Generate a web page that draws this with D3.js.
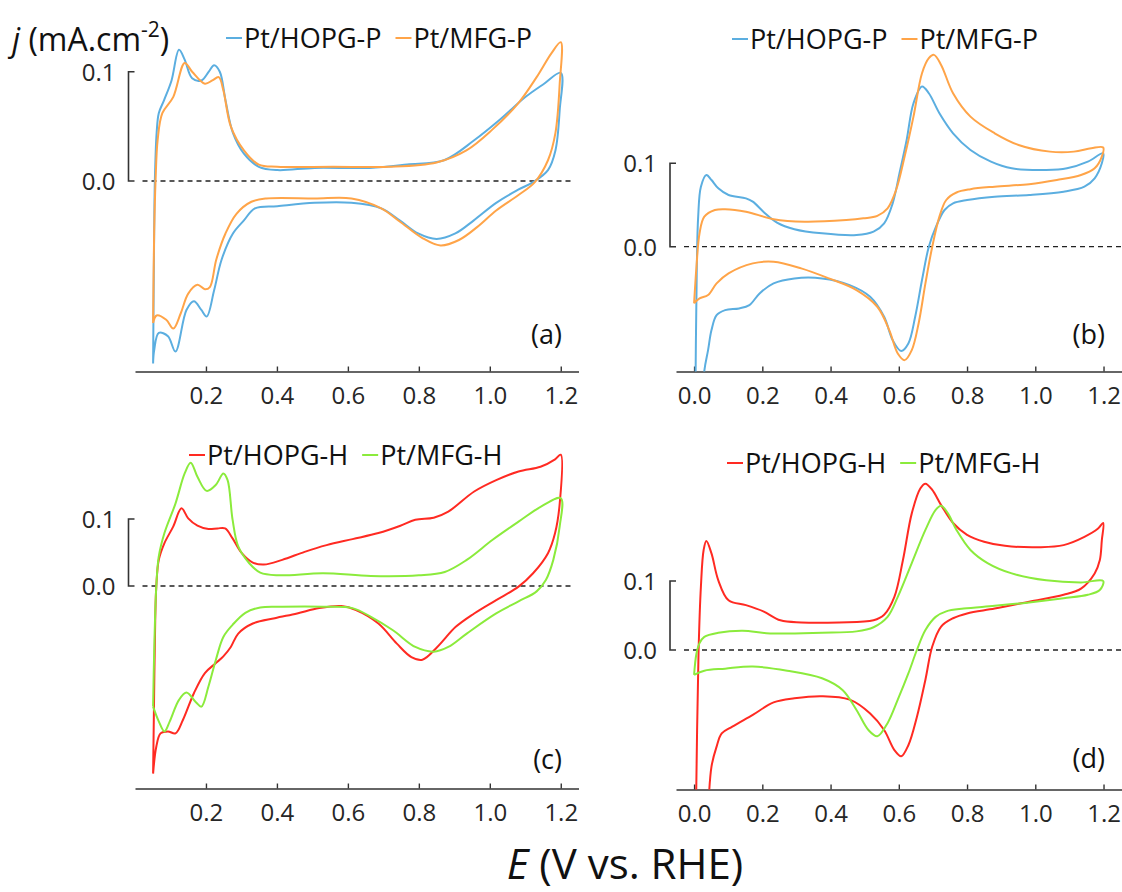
<!DOCTYPE html>
<html>
<head>
<meta charset="utf-8">
<script src="https://cdn.jsdelivr.net/npm/d3@7"></script>
<style>
  body { margin: 0; background: #fff; }
  svg { display: block; font-family: "Open Sans", "Noto Sans", sans-serif; }
</style>
</head>
<body>
<svg id="chart"></svg>
<script>
// ---- data (E in V vs RHE, j in mA/cm2) ----
const namesP = ['Pt/HOPG-P', 'Pt/MFG-P'];
const namesH = ['Pt/HOPG-H', 'Pt/MFG-H'];
const panelTags = ['(a)', '(b)', '(c)', '(d)'];
const xTicksShort = [0.2, 0.4, 0.6, 0.8, 1.0, 1.2];
const xTicksFull = [0.0, 0.2, 0.4, 0.6, 0.8, 1.0, 1.2];
const yTicks = [0.0, 0.1];

const aHopgP = [[0.051,-0.167],[0.054,-0.048],[0.056,0.001],[0.061,0.044],[0.067,0.062],[0.082,0.074],[0.103,0.092],[0.124,0.120],[0.140,0.111],[0.161,0.094],[0.187,0.092],[0.208,0.100],[0.223,0.106],[0.239,0.100],[0.255,0.074],[0.276,0.044],[0.307,0.025],[0.349,0.013],[0.401,0.010],[0.506,0.012],[0.662,0.012],[0.767,0.015],[0.871,0.019],[0.955,0.037],[1.028,0.056],[1.101,0.077],[1.153,0.089],[1.200,0.099],
  [1.197,0.065],[1.185,0.028],[1.164,0.010],[1.122,-0.001],[1.080,-0.008],[1.018,-0.020],[0.955,-0.036],[0.903,-0.048],[0.850,-0.053],[0.798,-0.048],[0.746,-0.036],[0.694,-0.025],[0.610,-0.020],[0.506,-0.020],[0.401,-0.023],[0.338,-0.025],[0.307,-0.036],[0.276,-0.048],[0.244,-0.072],[0.223,-0.100],[0.202,-0.124],[0.187,-0.118],[0.166,-0.110],[0.145,-0.118],[0.114,-0.156],[0.093,-0.142],[0.067,-0.139],[0.054,-0.155],[0.051,-0.167]];

const aMfgP = [[0.051,-0.130],[0.054,-0.048],[0.058,0.001],[0.064,0.038],[0.077,0.062],[0.108,0.077],[0.140,0.108],[0.161,0.100],[0.197,0.089],[0.218,0.092],[0.236,0.095],[0.249,0.083],[0.270,0.050],[0.307,0.028],[0.349,0.015],[0.401,0.013],[0.558,0.013],[0.714,0.013],[0.850,0.017],[0.934,0.028],[1.007,0.047],[1.080,0.071],[1.132,0.095],[1.174,0.117],[1.200,0.127],
  [1.197,0.089],[1.185,0.044],[1.164,0.019],[1.127,-0.001],[1.080,-0.013],[1.018,-0.027],[0.965,-0.042],[0.913,-0.054],[0.861,-0.059],[0.809,-0.052],[0.746,-0.037],[0.694,-0.025],[0.610,-0.016],[0.506,-0.016],[0.370,-0.016],[0.328,-0.019],[0.286,-0.030],[0.255,-0.048],[0.229,-0.072],[0.211,-0.097],[0.197,-0.099],[0.176,-0.095],[0.150,-0.103],[0.129,-0.121],[0.108,-0.135],[0.088,-0.127],[0.061,-0.123],[0.051,-0.130]];

const bHopgP = [[0.003,-0.220],[0.008,-0.024],[0.012,0.036],[0.020,0.072],[0.036,0.086],[0.051,0.080],[0.071,0.070],[0.101,0.062],[0.152,0.058],[0.172,0.054],[0.203,0.042],[0.243,0.029],[0.294,0.021],[0.375,0.016],[0.476,0.014],[0.526,0.018],[0.557,0.028],[0.582,0.052],[0.602,0.088],[0.623,0.128],[0.643,0.172],[0.668,0.192],[0.688,0.184],[0.719,0.160],[0.759,0.136],[0.810,0.116],[0.870,0.102],[0.931,0.094],[1.032,0.092],[1.093,0.094],[1.154,0.102],[1.199,0.112],
  [1.195,0.100],[1.174,0.082],[1.144,0.072],[1.083,0.066],[0.982,0.062],[0.881,0.060],[0.800,0.056],[0.759,0.052],[0.734,0.044],[0.709,0.024],[0.688,0.000],[0.668,-0.040],[0.648,-0.084],[0.628,-0.116],[0.607,-0.125],[0.582,-0.112],[0.557,-0.084],[0.516,-0.060],[0.456,-0.046],[0.375,-0.038],[0.294,-0.038],[0.233,-0.044],[0.192,-0.056],[0.162,-0.070],[0.132,-0.074],[0.091,-0.076],[0.066,-0.082],[0.051,-0.100],[0.041,-0.124],[0.030,-0.149],[0.022,-0.220]];

const bMfgP = [[0.000,-0.068],[0.007,-0.024],[0.016,0.016],[0.030,0.036],[0.061,0.044],[0.091,0.045],[0.152,0.042],[0.233,0.033],[0.324,0.030],[0.446,0.032],[0.496,0.034],[0.537,0.037],[0.567,0.046],[0.592,0.068],[0.617,0.108],[0.643,0.156],[0.668,0.208],[0.688,0.226],[0.703,0.230],[0.724,0.218],[0.759,0.184],[0.810,0.156],[0.881,0.136],[0.951,0.122],[1.043,0.114],[1.113,0.114],[1.164,0.118],[1.199,0.119],
  [1.195,0.108],[1.174,0.094],[1.134,0.086],[1.063,0.080],[0.982,0.075],[0.881,0.072],[0.810,0.069],[0.769,0.065],[0.739,0.056],[0.719,0.036],[0.698,0.000],[0.678,-0.044],[0.658,-0.092],[0.638,-0.124],[0.617,-0.136],[0.597,-0.128],[0.572,-0.100],[0.537,-0.072],[0.476,-0.052],[0.395,-0.038],[0.314,-0.026],[0.233,-0.018],[0.172,-0.020],[0.101,-0.032],[0.066,-0.044],[0.041,-0.058],[0.016,-0.062],[0.000,-0.068]];

const cHopgH = [[0.051,-0.280],[0.053,-0.200],[0.057,-0.051],[0.060,-0.001],[0.067,0.039],[0.083,0.064],[0.108,0.089],[0.131,0.116],[0.150,0.101],[0.176,0.090],[0.207,0.085],[0.233,0.086],[0.254,0.086],[0.275,0.071],[0.301,0.049],[0.332,0.035],[0.363,0.032],[0.415,0.039],[0.478,0.051],[0.540,0.061],[0.613,0.070],[0.686,0.079],[0.748,0.090],[0.790,0.099],[0.842,0.102],[0.883,0.111],[0.956,0.141],[1.018,0.158],[1.081,0.171],[1.143,0.178],[1.184,0.189],[1.200,0.196],
  [1.197,0.123],[1.184,0.079],[1.164,0.049],[1.122,0.019],[1.081,-0.001],[1.018,-0.021],[0.956,-0.041],[0.904,-0.061],[0.852,-0.091],[0.810,-0.110],[0.779,-0.106],[0.738,-0.086],[0.686,-0.056],[0.623,-0.036],[0.582,-0.030],[0.519,-0.033],[0.457,-0.041],[0.394,-0.048],[0.332,-0.056],[0.291,-0.071],[0.270,-0.091],[0.249,-0.105],[0.228,-0.115],[0.197,-0.130],[0.166,-0.160],[0.135,-0.200],[0.114,-0.220],[0.093,-0.217],[0.072,-0.220],[0.060,-0.240],[0.051,-0.280]];

const cMfgH = [[0.051,-0.180],[0.054,-0.100],[0.060,-0.001],[0.067,0.044],[0.083,0.079],[0.114,0.123],[0.140,0.168],[0.157,0.184],[0.176,0.163],[0.202,0.142],[0.228,0.151],[0.249,0.168],[0.261,0.158],[0.275,0.099],[0.291,0.059],[0.322,0.034],[0.353,0.020],[0.405,0.016],[0.530,0.019],[0.665,0.015],[0.800,0.016],[0.873,0.021],[0.935,0.039],[1.008,0.069],[1.081,0.096],[1.143,0.118],[1.200,0.131],
  [1.197,0.089],[1.179,0.039],[1.158,0.009],[1.132,-0.008],[1.081,-0.023],[1.018,-0.041],[0.935,-0.071],[0.883,-0.091],[0.842,-0.098],[0.790,-0.091],[0.727,-0.066],[0.665,-0.046],[0.613,-0.033],[0.530,-0.031],[0.415,-0.031],[0.353,-0.032],[0.311,-0.040],[0.275,-0.058],[0.249,-0.076],[0.228,-0.110],[0.207,-0.150],[0.187,-0.180],[0.171,-0.173],[0.145,-0.159],[0.124,-0.170],[0.098,-0.202],[0.083,-0.217],[0.067,-0.202],[0.051,-0.180]];

const dHopgH = [[0.005,-0.250],[0.013,-0.005],[0.020,0.092],[0.028,0.145],[0.036,0.158],[0.051,0.140],[0.071,0.101],[0.101,0.072],[0.152,0.065],[0.203,0.056],[0.253,0.043],[0.314,0.040],[0.425,0.040],[0.526,0.043],[0.557,0.051],[0.587,0.077],[0.612,0.130],[0.638,0.198],[0.663,0.234],[0.678,0.241],[0.698,0.232],[0.724,0.210],[0.759,0.184],[0.800,0.167],[0.850,0.157],[0.911,0.151],[1.012,0.149],[1.083,0.152],[1.144,0.164],[1.184,0.176],[1.199,0.184],
  [1.195,0.159],[1.189,0.130],[1.174,0.111],[1.134,0.089],[1.083,0.080],[0.982,0.070],[0.881,0.060],[0.800,0.053],[0.759,0.046],[0.724,0.034],[0.698,0.005],[0.678,-0.043],[0.653,-0.097],[0.628,-0.138],[0.607,-0.154],[0.587,-0.145],[0.557,-0.116],[0.516,-0.092],[0.456,-0.072],[0.375,-0.067],[0.294,-0.070],[0.233,-0.076],[0.172,-0.094],[0.112,-0.111],[0.081,-0.121],[0.066,-0.140],[0.051,-0.169],[0.040,-0.250]];

const dMfgH = [[0.000,-0.036],[0.007,-0.005],[0.016,0.010],[0.030,0.019],[0.071,0.025],[0.142,0.028],[0.223,0.024],[0.375,0.025],[0.476,0.027],[0.526,0.033],[0.567,0.048],[0.597,0.077],[0.638,0.126],[0.678,0.174],[0.708,0.203],[0.724,0.209],[0.744,0.198],[0.769,0.174],[0.810,0.145],[0.860,0.126],[0.931,0.111],[1.032,0.101],[1.134,0.098],[1.199,0.100],
  [1.189,0.087],[1.154,0.080],[1.083,0.075],[0.982,0.069],[0.881,0.064],[0.790,0.060],[0.739,0.056],[0.708,0.048],[0.678,0.029],[0.653,0.000],[0.628,-0.034],[0.597,-0.072],[0.567,-0.106],[0.537,-0.125],[0.511,-0.116],[0.476,-0.087],[0.435,-0.058],[0.375,-0.041],[0.273,-0.030],[0.172,-0.024],[0.091,-0.027],[0.030,-0.030],[0.000,-0.036]];

const colorsP = ['#5BAEE0', '#FFA448'];
const colorsH = ['#FF2A22', '#8BEB3C'];

class CvPanel {

  /**
   * One cyclic voltammogram panel
   * @param {Object} layout
   * @param {Array} series
   */
  constructor(_config, _series) {
    this.config = {
      svg: _config.svg,
      id: _config.id,
      tag: _config.tag,
      names: _config.names,
      colors: _config.colors,
      xDomain: _config.xDomain,
      xRange: _config.xRange,
      xTicks: _config.xTicks,
      yZero: _config.yZero,
      yTenth: _config.yTenth,
      axisY: _config.axisY,
      bracketX: _config.bracketX,
      dashEnd: _config.dashEnd,
      legendX: _config.legendX,
      legendY: _config.legendY,
      tagRight: _config.tagRight,
      tagBaseline: _config.tagBaseline
    };
    this.series = _series;
    this.initVis();
  }

  initVis() {
    let vis = this;
    const c = vis.config;

    vis.xScale = d3.scaleLinear().domain(c.xDomain).range(c.xRange);
    vis.yScale = d3.scaleLinear().domain([0, 0.1]).range([c.yZero, c.yTenth]);

    vis.g = c.svg.append('g').attr('class', 'panel-' + c.id);

    // clip the traces at the x axis line
    vis.g.append('clipPath')
        .attr('id', 'clip-' + c.id)
      .append('rect')
        .attr('x', c.xRange[0])
        .attr('y', c.axisY - 420)
        .attr('width', c.xRange[1] - c.xRange[0])
        .attr('height', 420);

    // x axis, ticks pointing inward
    vis.xAxis = d3.axisBottom(vis.xScale)
      .tickValues(c.xTicks)
      .tickSize(-5)
      .tickSizeOuter(0)
      .tickPadding(15)
      .tickFormat(d3.format('.1f'));

    vis.xAxisG = vis.g.append('g')
      .attr('transform', `translate(0,${c.axisY})`)
      .call(vis.xAxis);
    vis.xAxisG.select('.domain').attr('stroke', '#333').attr('stroke-width', 1.6);
    vis.xAxisG.selectAll('.tick line').attr('stroke', '#333').attr('stroke-width', 1.4);
    vis.xAxisG.selectAll('.tick text')
      .attr('fill', '#262626')
      .style('font-size', '24px')
      .style('font-family', '"Open Sans", sans-serif');

    // y scale bar: bracket from 0.0 to 0.1
    const b = c.bracketX;
    vis.g.append('path')
      .attr('d', `M${b + 6},${vis.yScale(0.1)}H${b}V${vis.yScale(0)}H${b + 6}`)
      .attr('fill', 'none')
      .attr('stroke', '#333')
      .attr('stroke-width', 1.6);

    vis.g.selectAll('.ytick')
      .data(yTicks)
      .join('text')
      .attr('class', 'ytick')
      .attr('x', b - 13)
      .attr('y', d => vis.yScale(d))
      .attr('dy', '0.38em')
      .attr('text-anchor', 'end')
      .attr('fill', '#262626')
      .style('font-size', '24px')
      .text(d3.format('.1f'));

    // dashed zero line
    vis.g.append('line')
      .attr('x1', b + 14)
      .attr('x2', c.dashEnd)
      .attr('y1', vis.yScale(0))
      .attr('y2', vis.yScale(0))
      .attr('stroke', '#222')
      .attr('stroke-width', 1.3)
      .attr('stroke-dasharray', '5,4');

    vis.renderVis();
  }

  renderVis() {
    let vis = this;
    const c = vis.config;

    const line = d3.line()
      .x(d => vis.xScale(d[0]))
      .y(d => vis.yScale(d[1]))
      .curve(d3.curveCatmullRom.alpha(0.5));

    vis.g.append('g')
      .attr('clip-path', `url(#clip-${c.id})`)
      .selectAll('.trace')
      .data(vis.series)
      .join('path')
      .attr('class', 'trace')
      .attr('d', d => line(d))
      .attr('fill', 'none')
      .attr('stroke', (d, i) => c.colors[i])
      .attr('stroke-width', 2)
      .attr('stroke-linejoin', 'round');

    // legend: short line + label, two items in a row
    const leg = vis.g.append('g').attr('transform', `translate(${c.legendX},${c.legendY})`);
    let cursor = 0;
    c.names.forEach((name, i) => {
      leg.append('line')
        .attr('x1', cursor).attr('x2', cursor + 16)
        .attr('y1', 0).attr('y2', 0)
        .attr('stroke', c.colors[i])
        .attr('stroke-width', 2);
      const t = leg.append('text')
        .attr('x', cursor + 18)
        .attr('y', 0)
        .attr('dy', '0.36em')
        .attr('fill', '#111')
        .style('font-size', '27px')
        .text(name);
      cursor += 18 + t.node().getComputedTextLength() + 14;
    });

    vis.g.append('text')
      .attr('x', c.tagRight)
      .attr('y', c.tagBaseline)
      .attr('text-anchor', 'end')
      .attr('fill', '#111')
      .style('font-size', '27px')
      .text(c.tag);
  }
}

const svg = d3.select('#chart')
  .attr('width', 1122)
  .attr('height', 892);

const xLeftCol = { xDomain: [0, 1.25], xRange: [135, 578.5], xTicks: xTicksShort, bracketX: 128.5, dashEnd: 571, tagRight: 562 };
const xRightCol = { xDomain: [-0.053, 1.26], xRange: [676, 1124], xTicks: xTicksFull, bracketX: 670, dashEnd: 1122, tagRight: 1105 };

new CvPanel(Object.assign({ svg, id: 'a', tag: panelTags[0], names: namesP, colors: colorsP,
  yZero: 181, yTenth: 71.7, axisY: 371.5, legendX: 226, legendY: 38, tagBaseline: 344 }, xLeftCol), [aHopgP, aMfgP]);
new CvPanel(Object.assign({ svg, id: 'b', tag: panelTags[1], names: namesP, colors: colorsP,
  yZero: 246.7, yTenth: 163.3, axisY: 371.5, legendX: 732, legendY: 39, tagBaseline: 344 }, xRightCol), [bHopgP, bMfgP]);
new CvPanel(Object.assign({ svg, id: 'c', tag: panelTags[2], names: namesH, colors: colorsH,
  yZero: 586, yTenth: 519, axisY: 788.5, legendX: 189, legendY: 455, tagBaseline: 769 }, xLeftCol), [cHopgH, cMfgH]);
new CvPanel(Object.assign({ svg, id: 'd', tag: panelTags[3], names: namesH, colors: colorsH,
  yZero: 650, yTenth: 581, axisY: 789.5, legendX: 727, legendY: 463, tagBaseline: 768 }, xRightCol), [dHopgH, dMfgH]);

// y axis title
const yTitle = svg.append('text')
  .attr('x', 12)
  .attr('y', 51)
  .attr('fill', '#111')
  .style('font-size', '32px');
yTitle.append('tspan').style('font-style', 'italic').text('j');
yTitle.append('tspan').text(' (mA.cm');
yTitle.append('tspan').attr('dy', -14).style('font-size', '21px').text('-2');
yTitle.append('tspan').attr('dy', 14).text(')');

// x axis title
const xTitle = svg.append('text')
  .attr('x', 625)
  .attr('y', 879)
  .attr('text-anchor', 'middle')
  .attr('fill', '#111')
  .style('font-size', '42px');
xTitle.append('tspan').style('font-style', 'italic').text('E');
xTitle.append('tspan').text(' (V vs. RHE)');
</script>
</body>
</html>
